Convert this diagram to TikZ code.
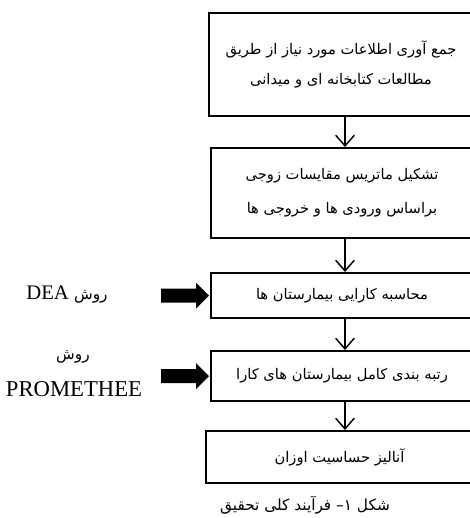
\documentclass[tikz,border=0pt]{standalone}
\usepackage{fontspec}
\setmainfont{Liberation Serif}
\newfontfamily\fa[Script=Arabic]{DejaVu Sans}
\TeXXeTstate=1
\usetikzlibrary{arrows.meta}
\newcommand\RL[1]{{\fa\beginR #1\endR}}
\tikzset{
  flowbox/.style={draw, line width=1.5pt, anchor=north west, align=center, inner sep=0pt},
  flowarrow/.style={line width=1.1pt, -{Straight Barb[length=8pt,width=14pt,line width=1.1pt]}},
  blockarrow/.style={fill=black},
  boxtext/.style={font=\fontsize{11}{22.5}\selectfont},
}
\begin{document}
\begin{tikzpicture}[x=0.75pt,y=-0.75pt]
\useasboundingbox (0,0) rectangle (470,518);
\clip (0,0) rectangle (470,518);
\node[flowbox, boxtext, minimum width=198pt, minimum height=77.25pt] (b1) at (208,12)
  {\RL{جمع آوری اطلاعات مورد نیاز از طریق}\\\RL{مطالعات کتابخانه ای و میدانی}};
\node[flowbox, font=\fontsize{11}{25.5}\selectfont, minimum width=196.5pt, minimum height=67.5pt] (b2) at (210,147)
  {\RL{تشکیل ماتریس مقایسات زوجی}\\\RL{براساس ورودی ها و خروجی ها}};
\node[flowbox, boxtext, minimum width=196.5pt, minimum height=33.75pt] (b3) at (210,272)
  {\RL{محاسبه کارایی بیمارستان ها}};
\node[flowbox, boxtext, minimum width=196.5pt, minimum height=37.5pt] (b4) at (210,350)
  {\RL{رتبه بندی کامل بیمارستان های کارا}};
\node[flowbox, boxtext, minimum width=200.25pt, minimum height=39pt] (b5) at (205,430)
  {\RL{آنالیز حساسیت اوزان}};
\coordinate (a1s) at (345,115); \coordinate (a1e) at (345,147);
\coordinate (a2s) at (345,237); \coordinate (a2e) at (345,272);
\coordinate (a3s) at (345,317); \coordinate (a3e) at (345,350);
\coordinate (a4s) at (345,400); \coordinate (a4e) at (345,430);
\draw[flowarrow] (a1s) -- (a1e);
\draw[flowarrow] (a2s) -- (a2e);
\draw[flowarrow] (a3s) -- (a3e);
\draw[flowarrow] (a4s) -- (a4e);
\fill[blockarrow] (b3.west) ++(-1,0) -- ++(-13,-13) -- ++(0,6) -- ++(-35,0) -- ++(0,14) -- ++(35,0) -- ++(0,6) -- cycle;
\fill[blockarrow] (b4.west) ++(-1,0) -- ++(-13,-13) -- ++(0,6) -- ++(-35,0) -- ++(0,14) -- ++(35,0) -- ++(0,6) -- cycle;
\node[font=\fontsize{15.5}{18}\selectfont] (l1) at (67,295) {DEA {\fa\fontsize{11.5}{13}\selectfont روش}};
\node[font=\fa\fontsize{11.5}{13}\selectfont] (l2) at (73,357) {روش};
\node[font=\fontsize{17}{19}\selectfont] (l3) at (74,389) {PROMETHEE};
\node[font=\fontsize{11.5}{14}\selectfont] (cap) at (305,505) {\RL{شکل ۱– فرآیند کلی تحقیق}};
\end{tikzpicture}
\end{document}
